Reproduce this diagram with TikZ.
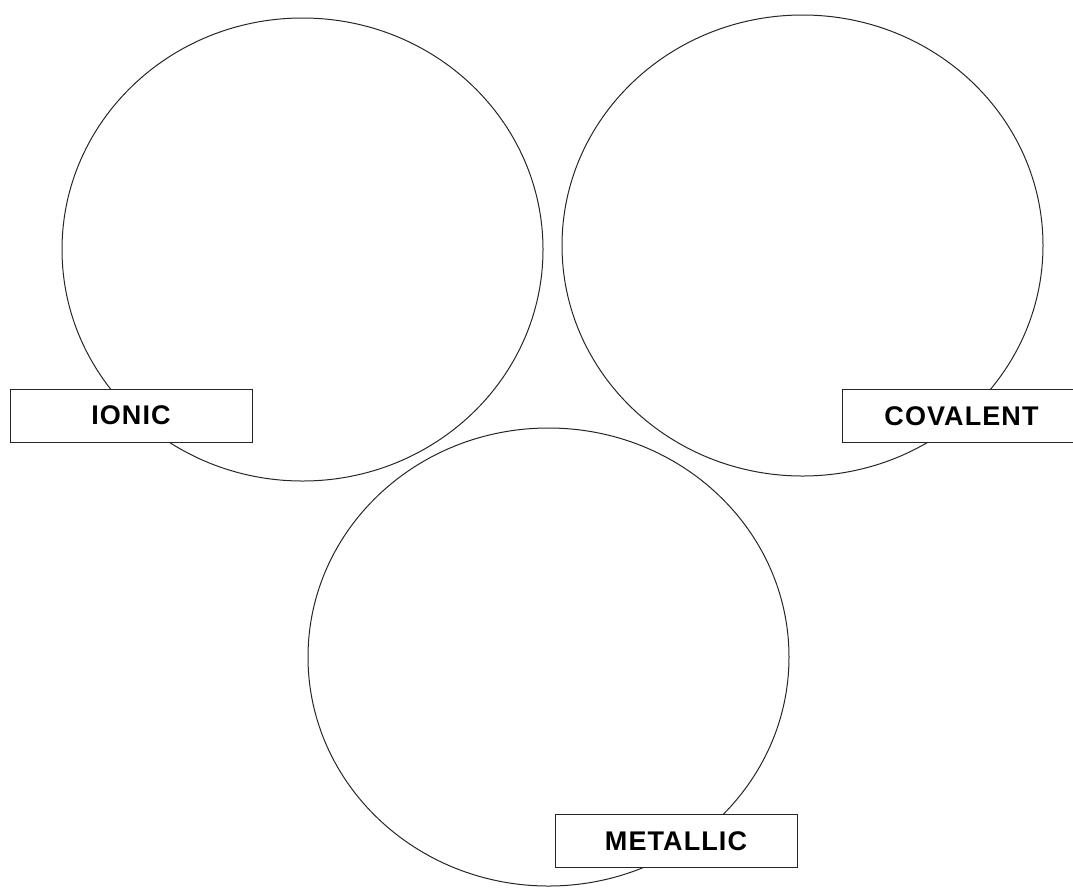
\documentclass[tikz,border=0pt]{standalone}
\usepackage{fontspec}
\setmainfont{Liberation Sans}[LetterSpace=4]
\usetikzlibrary{positioning}

\begin{document}
\begin{tikzpicture}[x=1pt, y=-1pt, font=\fontsize{27}{31}\selectfont\bfseries,
  ring/.style={draw=black!85, line width=1pt},
  labelbox/.style={draw=black!85, fill=white, line width=1pt, minimum width=242pt, minimum height=53pt, inner sep=0pt}]
  \useasboundingbox (0,0) rectangle (1073,887);
  % the three rings
  \draw[ring] (302.5,249.5) ellipse [x radius=240.5, y radius=231.5];
  \draw[ring] (802.5,245.5) ellipse [x radius=240.5, y radius=230.5];
  \draw[ring] (548.5,657) ellipse [x radius=240.5, y radius=229];
  % labels
  \node[labelbox] (ionic) at (131,415.5) {IONIC};
  \node[labelbox, minimum width=239pt] (covalent) at (961.5,416) {COVALENT};
  \node[labelbox] (metallic) at (676,841) {METALLIC};
\end{tikzpicture}
\end{document}
